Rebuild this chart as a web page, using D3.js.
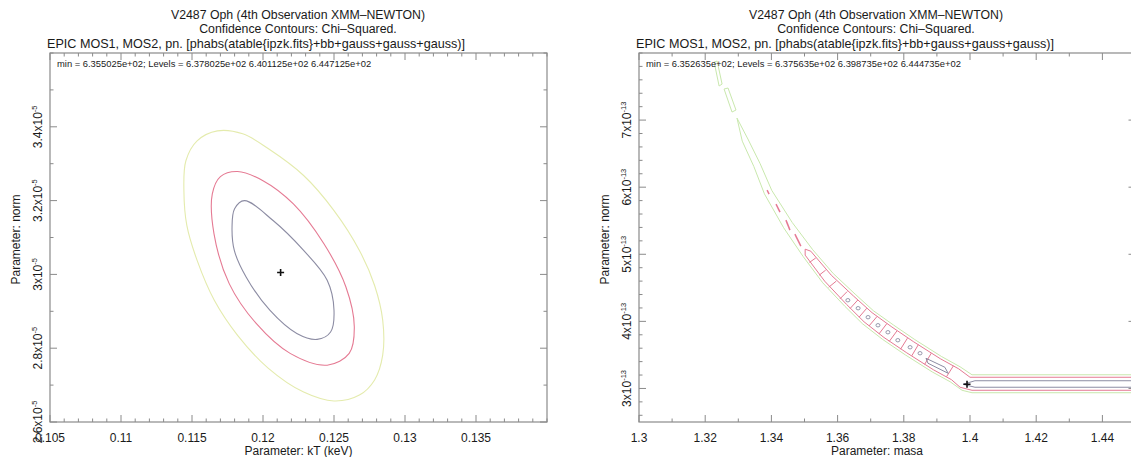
<!DOCTYPE html>
<html>
<head>
<meta charset="utf-8">
<script src="https://cdn.jsdelivr.net/npm/d3@7"></script>
<style>
  html, body { margin: 0; padding: 0; background: #fff; }
  svg { display: block; font-family: "Liberation Sans", Arial, Helvetica, sans-serif; }
</style>
</head>
<body>
<svg id="chart" width="1131" height="457"></svg>
<script>
// ---------------- data ----------------
const titleLines = [
  "V2487 Oph (4th Observation XMM\u2013NEWTON)",
  "Confidence Contours: Chi\u2013Squared.",
  "EPIC MOS1, MOS2, pn. [phabs(atable{ipzk.fits}+bb+gauss+gauss+gauss)]"
];

// Left panel: kT (keV) vs norm (norm in units of 1e-5)
const kTDomain = [0.105, 0.14];
const normLDomain = [2.6, 3.6];
const kTTicks = [0.105, 0.11, 0.115, 0.12, 0.125, 0.13, 0.135];
const normLTicks = [2.6, 2.8, 3.0, 3.2, 3.4];
const normLExponent = "-5";
const levelTextL = "min = 6.355025e+02; Levels =  6.378025e+02 6.401125e+02 6.447125e+02";
const bestFitL = [0.12124, 3.005];
const contourL1 = [[0.11869,3.200],[0.12071,3.146],[0.12286,3.065],[0.12452,2.984],[0.12500,2.903],[0.12476,2.844],
  [0.12381,2.824],[0.12238,2.840],[0.12048,2.903],[0.11881,2.993],[0.11798,3.065],[0.11782,3.128],[0.11800,3.178]];
const contourL2 = [[0.11821,3.279],[0.12000,3.254],[0.12214,3.191],[0.12429,3.083],[0.12584,2.966],[0.12643,2.858],
  [0.12607,2.786],[0.12452,2.754],[0.12191,2.786],[0.11952,2.867],[0.11762,2.975],[0.11655,3.110],[0.11643,3.218],[0.11700,3.265]];
const contourL3 = [[0.11679,3.389],[0.11857,3.381],[0.12036,3.341],[0.12286,3.268],[0.12500,3.173],[0.12679,3.065],
  [0.12786,2.970],[0.12843,2.876],[0.12843,2.781],[0.12786,2.714],[0.12679,2.673],[0.12500,2.657],[0.12286,2.681],
  [0.12036,2.746],[0.11821,2.835],[0.11657,2.930],[0.11536,3.038],[0.11464,3.132],[0.11443,3.227],[0.11457,3.308],[0.11536,3.362]];

// Right panel: masa vs norm (norm in units of 1e-13)
const masaDomain = [1.3, 1.45];
const normRDomain = [2.5, 8.0];
const masaTicks = [1.3, 1.32, 1.34, 1.36, 1.38, 1.4, 1.42, 1.44];
const normRTicks = [3, 4, 5, 6, 7];
const normRExponent = "-13";
const levelTextR = "min = 6.352635e+02; Levels =  6.375635e+02 6.398735e+02 6.444735e+02";
const bestFitR = [1.3991, 3.062];

// outer level: two small pieces near the top and the long valley band
const contourR3Pieces = [
  [[1.3227,7.866],[1.3236,7.880],[1.3251,7.537],[1.3242,7.508]],
  [[1.3257,7.463],[1.3269,7.478],[1.3293,7.150],[1.3281,7.120]],
  [[1.3296,7.030],
   [1.3329,6.718],[1.3366,6.350],[1.3401,5.953],[1.3463,5.473],[1.3525,5.067],[1.3587,4.712],[1.3653,4.406],
   [1.3708,4.159],[1.3769,3.945],[1.3833,3.729],[1.3914,3.476],[1.3970,3.323],[1.4006,3.204],[1.46,3.204],
   [1.46,2.936],[1.4006,2.936],[1.3976,2.973],[1.3940,3.100],[1.3886,3.246],[1.3805,3.499],[1.3736,3.731],
   [1.3675,3.965],[1.3622,4.224],[1.3555,4.575],[1.3496,4.966],[1.3437,5.395],[1.3379,5.900],[1.3347,6.308],[1.3312,6.686]]
];
// middle level: short isolated pieces, then a chain of cells along the valley
const contourR2Dashes = [
  [[1.3387,5.956],[1.3393,5.897]],
  [[1.3414,5.747],[1.3426,5.628]],
  [[1.3444,5.509],[1.3456,5.360]],
  [[1.3471,5.300],[1.3489,5.121]]
];
const contourR2Band = [[1.3502,5.076],
  [1.3519,5.046],[1.3581,4.688],[1.3648,4.378],[1.3704,4.130],[1.3764,3.916],[1.3829,3.698],[1.3910,3.444],
  [1.3966,3.292],[1.4000,3.167],[1.46,3.167],
  [1.46,2.973],[1.4006,2.973],[1.3970,3.018],[1.3944,3.131],[1.3890,3.277],[1.3809,3.531],[1.3740,3.760],
  [1.3680,3.993],[1.3627,4.253],[1.3561,4.599],[1.3502,4.987]];
const contourR2Walls = [
  [[1.3534,4.945],[1.3515,4.879]], [[1.3564,4.764],[1.3544,4.687]], [[1.3596,4.600],[1.3573,4.508]],
  [[1.3629,4.445],[1.3607,4.335]], [[1.3661,4.318],[1.3638,4.193]], [[1.3688,4.195],[1.3665,4.063]],
  [[1.3719,4.072],[1.3695,3.932]], [[1.3749,3.968],[1.3725,3.813]], [[1.3779,3.856],[1.3756,3.701]],
  [[1.3811,3.749],[1.3790,3.584]], [[1.3844,3.653],[1.3824,3.486]], [[1.3883,3.526],[1.3863,3.359]],
  [[1.3950,3.338],[1.3929,3.174]]
];
// inner level: small islands inside the cells, one elongated island, and the flat band
const contourR1Islands = [[1.3631,4.315],[1.3662,4.196],[1.3692,4.062],[1.3722,3.942],[1.3752,3.838],
  [1.3782,3.719],[1.3819,3.614],[1.3849,3.525]];
const contourR1Loops = [
  [[1.3867,3.450],[1.3924,3.316],[1.3934,3.226],[1.3873,3.376]],
  [[1.3979,3.062],[1.4015,3.115],[1.46,3.115],[1.46,3.018],[1.4015,3.018]]
];

// ---------------- drawing ----------------
const svg = d3.select("#chart");
const FONT_COLOR = "#1a1a1a";
const FRAME_COLOR = "#8a8a8a";
const COL_INNER = "#8c8ca3";
const COL_MID = "#e57a93";

function sciLabel(sel, v, exp) {
  sel.append("tspan").text(v + "x10");
  sel.append("tspan").attr("dy", -5).attr("font-size", 7.5).text(exp);
}

function drawPanel(p) {
  const g = svg.append("g");
  const x = d3.scaleLinear().domain(p.xDomain).range([p.x0, p.x1]);
  const y = d3.scaleLinear().domain(p.yDomain).range([p.y1, p.y0]);

  // title block
  g.append("text").attr("x", p.titleX).attr("y", 19).attr("text-anchor", "middle")
    .attr("font-size", 12.3).attr("fill", FONT_COLOR).text(titleLines[0]);
  g.append("text").attr("x", p.titleX).attr("y", 33).attr("text-anchor", "middle")
    .attr("font-size", 12.3).attr("fill", FONT_COLOR).text(titleLines[1]);
  g.append("text").attr("x", p.x0 - 3).attr("y", 48)
    .attr("font-size", 12.6).attr("fill", FONT_COLOR).text(titleLines[2]);

  // clip region
  const clipId = "clip-" + p.id;
  svg.append("clipPath").attr("id", clipId).append("rect")
    .attr("x", p.x0).attr("y", p.y0).attr("width", p.x1 - p.x0).attr("height", p.y1 - p.y0);
  const plot = g.append("g").attr("clip-path", `url(#${clipId})`);

  // contours
  const smooth = d3.line().x(d => x(d[0])).y(d => y(d[1])).curve(d3.curveCatmullRomClosed.alpha(0.5));
  const poly = d3.line().x(d => x(d[0])).y(d => y(d[1])).curve(d3.curveLinearClosed);
  const seg = d3.line().x(d => x(d[0])).y(d => y(d[1]));
  p.drawContours(plot, x, y, smooth, poly, seg);

  // best-fit cross
  const bx = x(p.best[0]), by = y(p.best[1]);
  plot.append("path").attr("d", `M${bx - 3.5},${by}H${bx + 3.5}M${bx},${by - 3.5}V${by + 3.5}`)
    .attr("stroke", "#111").attr("stroke-width", 1.6);

  // frame
  g.append("rect").attr("x", p.x0).attr("y", p.y0).attr("width", p.x1 - p.x0).attr("height", p.y1 - p.y0)
    .attr("fill", "none").attr("stroke", FRAME_COLOR).attr("stroke-width", 1.2);

  // ticks (inward on all sides)
  const xMinor = x.ticks(p.xMinorCount);
  const yMinor = y.ticks(p.yMinorCount);
  const ticks = g.append("g").attr("stroke", FRAME_COLOR).attr("stroke-width", 1);
  const isMajor = (arr, v) => arr.some(t => Math.abs(t - v) < 1e-9);
  xMinor.forEach(v => {
    const len = isMajor(p.xTicks, v) ? 7 : 3.5;
    const px = x(v);
    ticks.append("line").attr("x1", px).attr("x2", px).attr("y1", p.y1).attr("y2", p.y1 - len);
    ticks.append("line").attr("x1", px).attr("x2", px).attr("y1", p.y0).attr("y2", p.y0 + len);
  });
  yMinor.forEach(v => {
    const len = isMajor(p.yTicks, v) ? 7 : 3.5;
    const py = y(v);
    ticks.append("line").attr("x1", p.x0).attr("x2", p.x0 + len).attr("y1", py).attr("y2", py);
    ticks.append("line").attr("x1", p.x1).attr("x2", p.x1 - len).attr("y1", py).attr("y2", py);
  });

  // tick labels
  p.xTicks.forEach(v => {
    g.append("text").attr("x", x(v)).attr("y", p.y1 + 20).attr("text-anchor", "middle")
      .attr("font-size", 12).attr("fill", FONT_COLOR).text(String(v));
  });
  p.yTicks.forEach(v => {
    const t = g.append("text").attr("transform", `translate(${p.x0 - 8},${y(v)}) rotate(-90)`)
      .attr("text-anchor", "middle").attr("font-size", 12).attr("fill", FONT_COLOR);
    sciLabel(t, v, p.yExp);
  });

  // axis titles
  g.append("text").attr("x", (p.x0 + Math.min(p.x1, 1131)) / 2 + p.xTitleShift).attr("y", p.y1 + 33)
    .attr("text-anchor", "middle").attr("font-size", 12).attr("fill", FONT_COLOR).text(p.xTitle);
  g.append("text").attr("transform", `translate(${p.x0 - 30},${(p.y0 + p.y1) / 2 + 2}) rotate(-90)`)
    .attr("text-anchor", "middle").attr("font-size", 12).attr("fill", FONT_COLOR).text("Parameter: norm");

  // level annotation
  g.append("text").attr("x", p.x0 + 7).attr("y", p.y0 + 14)
    .attr("font-size", 9.4).attr("fill", FONT_COLOR).text(p.levelText);
}

drawPanel({
  id: "kT", x0: 50, x1: 547, y0: 53, y1: 422, titleX: 298,
  xDomain: kTDomain, yDomain: normLDomain, xTicks: kTTicks, yTicks: normLTicks,
  xMinorCount: 35, yMinorCount: 10, yExp: normLExponent,
  xTitle: "Parameter: kT (keV)", xTitleShift: 0, levelText: levelTextL, best: bestFitL,
  drawContours(plot, x, y, smooth) {
    plot.append("path").attr("d", smooth(contourL3)).attr("fill", "none").attr("stroke", "#e4ebad").attr("stroke-width", 1.1);
    plot.append("path").attr("d", smooth(contourL2)).attr("fill", "none").attr("stroke", COL_MID).attr("stroke-width", 1.1);
    plot.append("path").attr("d", smooth(contourL1)).attr("fill", "none").attr("stroke", COL_INNER).attr("stroke-width", 1.1);
  }
});

drawPanel({
  id: "masa", x0: 639, x1: 1135.5, y0: 53, y1: 422, titleX: 876,
  xDomain: masaDomain, yDomain: normRDomain, xTicks: masaTicks, yTicks: normRTicks,
  xMinorCount: 15, yMinorCount: 27, yExp: normRExponent,
  xTitle: "Parameter: masa", xTitleShift: -8, levelText: levelTextR, best: bestFitR,
  drawContours(plot, x, y, smooth, poly, seg) {
    contourR3Pieces.forEach(pc => plot.append("path").attr("d", poly(pc))
      .attr("fill", "none").attr("stroke", "#c9e8ad").attr("stroke-width", 1).attr("stroke-linejoin", "round"));
    contourR2Dashes.forEach(pc => plot.append("path").attr("d", seg(pc))
      .attr("fill", "none").attr("stroke", COL_MID).attr("stroke-width", 1.5));
    plot.append("path").attr("d", poly(contourR2Band))
      .attr("fill", "none").attr("stroke", COL_MID).attr("stroke-width", 1).attr("stroke-linejoin", "round");
    contourR2Walls.forEach(pc => plot.append("path").attr("d", seg(pc))
      .attr("fill", "none").attr("stroke", COL_MID).attr("stroke-width", 1));
    contourR1Islands.forEach(c => plot.append("ellipse").attr("cx", x(c[0])).attr("cy", y(c[1]))
      .attr("rx", 2).attr("ry", 1.7).attr("fill", "none").attr("stroke", COL_INNER).attr("stroke-width", 0.9));
    contourR1Loops.forEach(pc => plot.append("path").attr("d", poly(pc))
      .attr("fill", "none").attr("stroke", COL_INNER).attr("stroke-width", 1).attr("stroke-linejoin", "round"));
  }
});
</script>
</body>
</html>
